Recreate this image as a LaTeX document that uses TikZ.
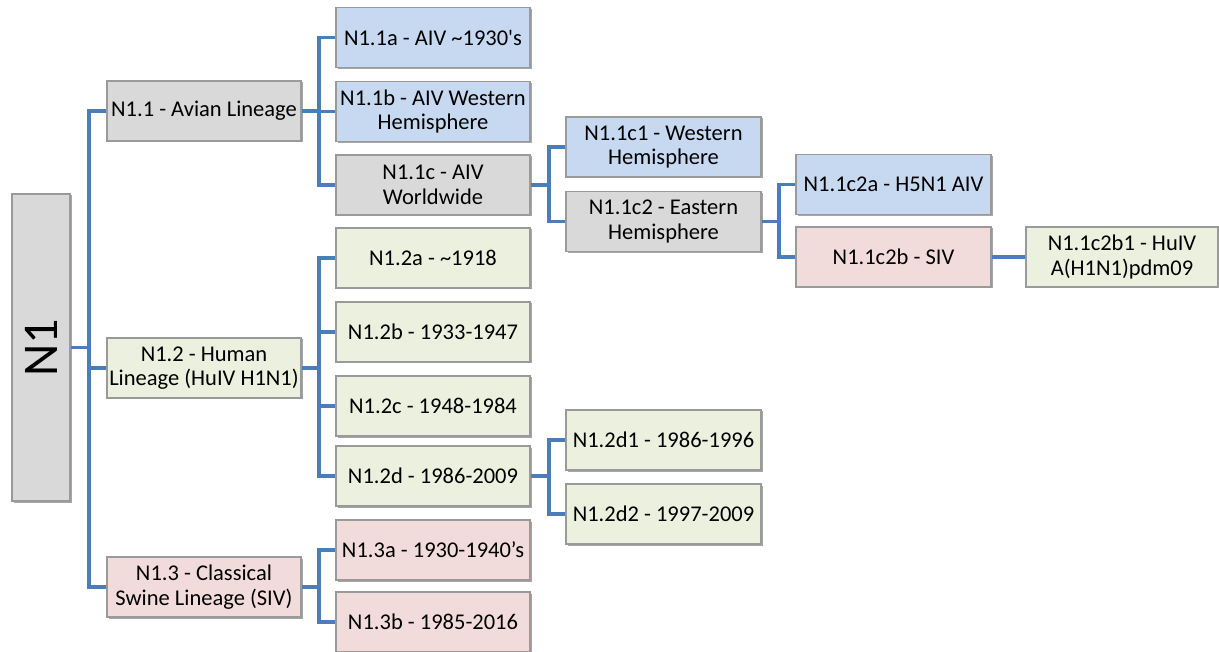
\documentclass[tikz,border=0pt]{standalone}
\usepackage{fontspec}
\setmainfont{Carlito}
\usetikzlibrary{shadows}
\definecolor{cblue}{HTML}{C6D9F1}
\definecolor{cgray}{HTML}{D9D9D9}
\definecolor{cgreen}{HTML}{EBF1DE}
\definecolor{cpink}{HTML}{F2DCDB}
\definecolor{cline}{HTML}{4A7EBB}
\definecolor{cborder}{HTML}{9A9A9A}
\begin{document}
\begin{tikzpicture}[x=1pt,y=-1pt,
  box/.style={draw=cborder, line width=1.5pt, inner sep=0pt, minimum width=194pt, minimum height=60pt,
    align=center, font=\fontsize{22.5}{24.5}\selectfont, text=black,
    drop shadow={shadow xshift=1.5pt, shadow yshift=-1.5pt, opacity=0.35, fill=black}},
  bbox/.style={box, fill=cblue},
  gbox/.style={box, fill=cgray},
  grbox/.style={box, fill=cgreen},
  pbox/.style={box, fill=cpink},
  conn/.style={draw=cline, line width=3.4pt}]
\useasboundingbox (0,0) rectangle (1219,652);
\fill[white] (0,0) rectangle (1219,652);

\node[gbox, minimum width=58pt, minimum height=307pt] (n1) at (41,347.5) {};
\node[rotate=90, font=\fontsize{50}{54}\selectfont, text=black] (n1t) at (n1.center) {N1};

\node[gbox] (n11) at (204,111) {N1.1 - Avian Lineage};
\node[grbox] (n12) at (204,368) {N1.2 - Human\\Lineage (HuIV H1N1)};
\node[pbox] (n13) at (204,587) {N1.3 - Classical\\Swine Lineage (SIV)};

\node[bbox] (n11a) at (433,37.5) {N1.1a - AIV \textasciitilde1930\textquotesingle s};
\node[bbox] (n11b) at (433,111.5) {N1.1b - AIV Western\\Hemisphere};
\node[gbox] (n11c) at (433,185) {N1.1c - AIV\\Worldwide};

\node[bbox, minimum width=195pt] (n11c1) at (663.5,147) {N1.1c1 - Western\\Hemisphere};
\node[gbox, minimum width=195pt] (n11c2) at (663.5,221.5) {N1.1c2 - Eastern\\Hemisphere};

\node[bbox, minimum width=195pt] (n11c2a) at (893.5,184.5) {N1.1c2a - H5N1 AIV};
\node[pbox, minimum width=195pt] (n11c2b) at (893.5,257) {N1.1c2b - SIV};
\node[grbox, minimum width=192pt] (n11c2b1) at (1122,257) {N1.1c2b1 - HuIV\\A(H1N1)pdm09};

\node[grbox] (n12a) at (433,258) {N1.2a - \textasciitilde1918};
\node[grbox] (n12b) at (433,332) {N1.2b - 1933-1947};
\node[grbox] (n12c) at (433,406) {N1.2c - 1948-1984};
\node[grbox] (n12d) at (433,476) {N1.2d - 1986-2009};
\node[grbox, minimum width=195pt] (n12d1) at (663.5,440) {N1.2d1 - 1986-1996};
\node[grbox, minimum width=195pt] (n12d2) at (663.5,514) {N1.2d2 - 1997-2009};

\node[pbox] (n13a) at (433,550) {N1.3a - 1930-1940’s};
\node[pbox] (n13b) at (433,622) {N1.3b - 1985-2016};

\coordinate (b1) at (89,0);
\coordinate (b2) at (319,0);
\coordinate (b3) at (549,0);
\coordinate (b4) at (779,0);

% level 1
\draw[conn] (n1.east) -- (n1.east -| b1);
\draw[conn] (n11.west) -- (n11.west -| b1) -- (n13.west -| b1) -- (n13.west);
\draw[conn] (n12.west) -- (n12.west -| b1);

% N1.1 children
\draw[conn] (n11.east) -- (n11.east -| b2);
\draw[conn] (n11a.west) -- (n11a.west -| b2) -- (n11c.west -| b2) -- (n11c.west);
\draw[conn] (n11b.west) -- (n11b.west -| b2);

% N1.1c children
\draw[conn] (n11c.east) -- (n11c.east -| b3);
\draw[conn] (n11c1.west) -- (n11c1.west -| b3) -- (n11c2.west -| b3) -- (n11c2.west);

% N1.1c2 children
\draw[conn] (n11c2.east) -- (n11c2.east -| b4);
\draw[conn] (n11c2a.west) -- (n11c2a.west -| b4) -- (n11c2b.west -| b4) -- (n11c2b.west);
\draw[conn] (n11c2b.east) -- (n11c2b1.west);

% N1.2 children
\draw[conn] (n12.east) -- (n12.east -| b2);
\draw[conn] (n12a.west) -- (n12a.west -| b2) -- (n12d.west -| b2) -- (n12d.west);
\draw[conn] (n12b.west) -- (n12b.west -| b2);
\draw[conn] (n12c.west) -- (n12c.west -| b2);

% N1.2d children
\draw[conn] (n12d.east) -- (n12d.east -| b3);
\draw[conn] (n12d1.west) -- (n12d1.west -| b3) -- (n12d2.west -| b3) -- (n12d2.west);

% N1.3 children
\draw[conn] (n13.east) -- (n13.east -| b2);
\draw[conn] (n13a.west) -- (n13a.west -| b2) -- (n13b.west -| b2) -- (n13b.west);
\end{tikzpicture}
\end{document}
